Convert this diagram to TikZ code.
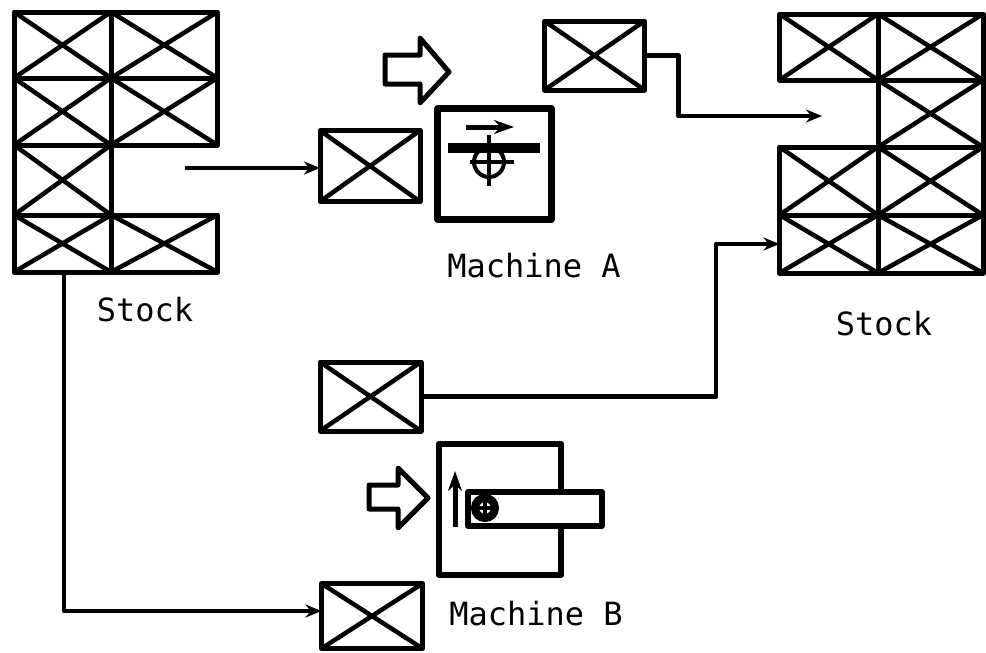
\documentclass[tikz,border=0pt]{standalone}
\usepackage{fontspec}
\setmonofont{DejaVu Sans Mono}
\usetikzlibrary{calc, arrows.meta}
\tikzset{
  crate/.style={draw, line width=5pt, line join=round, inner sep=0pt, outer sep=0pt, anchor=north west,
    path picture={\draw[line width=4.5pt] (path picture bounding box.north west) -- (path picture bounding box.south east)
      (path picture bounding box.south west) -- (path picture bounding box.north east);}},
  flow/.style={line width=4.5pt, line join=round, -{Stealth[length=16pt,width=13pt]}},
  machine/.style={draw, line width=6.5pt, line join=round, inner sep=0pt, outer sep=0pt, anchor=north west},
  blockarrow/.style={line width=5pt, line join=round},
  label/.style={font=\ttfamily\fontsize{32}{32}\selectfont, inner sep=0pt}
}
\begin{document}
\begin{tikzpicture}[x=1pt, y=-1pt]
  \useasboundingbox (0,0) rectangle (986,653);
  % left stock
  \foreach \nm/\x/\y/\w/\h in {la/14/12/97/66, lb/111/12/106.5/66, lc/14/78/97/67, ld/111/78/106.5/67,
      le/14/145/97/70, lf/14/215/97/57, lg/111/215/106.5/57}
    \node[crate, minimum width=\w pt, minimum height=\h pt] (\nm) at (\x,\y) {};
  % right stock
  \foreach \nm/\x/\y/\w/\h in {ra/779.5/14/98.5/66, rb/878/14/105/66, rc/878/80/105/67,
      rd/779.5/147/98.5/68, re/878/147/105/68, rf/779.5/215/98.5/58, rg/878/215/105/58}
    \node[crate, minimum width=\w pt, minimum height=\h pt] (\nm) at (\x,\y) {};
  % single crates
  \foreach \nm/\x/\y/\w/\h in {cin/320/130.5/100/71, cout/544.5/21/100/69, cdone/320/362/101/69, cnext/321.5/583.5/101/65}
    \node[crate, minimum width=\w pt, minimum height=\h pt] (\nm) at (\x,\y) {};
  % machines
  \node[machine, minimum width=114pt, minimum height=111pt] (machA) at (437.5,108.5) {};
  \node[machine, minimum width=122pt, minimum height=131pt] (machB) at (439,444) {};
  \node[machine, fill=white, line width=6pt, minimum width=134pt, minimum height=34pt] (bar) at (468,492) {};
  % tool of machine A
  \draw[line width=4pt] (489,162) circle (15);
  \fill (448,143) rectangle (540,153);
  \draw[line width=4.5pt] (489,135) -- (489,186) (470,162) -- (514,162);
  \draw[line width=5pt, -{Stealth[length=20pt,width=14pt]}] (466,127) -- (514,127);
  % tool of machine B
  \draw[line width=8pt] (485,508) circle (10);
  \draw[line width=4pt] (485,497) -- (485,519) (474,508) -- (496,508);
  \draw[line width=5pt, -{Stealth[length=20pt,width=14pt]}] (455,527) -- (455,471);
  % block arrows
  \draw[blockarrow] (385,55) -- (420,55) -- (420,38) -- (449,72) -- (420,103) -- (420,84) -- (385,84) -- cycle;
  \draw[blockarrow] (369,485) -- (398,485) -- (398,468) -- (428,498) -- (398,528) -- (398,509) -- (369,509) -- cycle;
  % flows
  \coordinate (feed) at (185,168);
  \coordinate (back) at (822,116);
  \coordinate (drop) at (64,611);
  \coordinate (bend) at (716,396.5);
  \draw[flow] (feed) -- (feed -| cin.west);
  \draw[flow] (cout.east) -- ++(34,0) |- (back);
  \draw[flow] (cdone.east) -- (bend) |- (rf.west);
  \draw[flow] (lf.south -| drop) -- (drop) -- (drop -| cnext.west);
  % labels
  \node[label] (stockL) at (145,310) {Stock};
  \node[label] (stockR) at (884,324) {Stock};
  \node[label] (labelA) at (534,266) {Machine A};
  \node[label] (labelB) at (536,614) {Machine B};
\end{tikzpicture}
\end{document}
